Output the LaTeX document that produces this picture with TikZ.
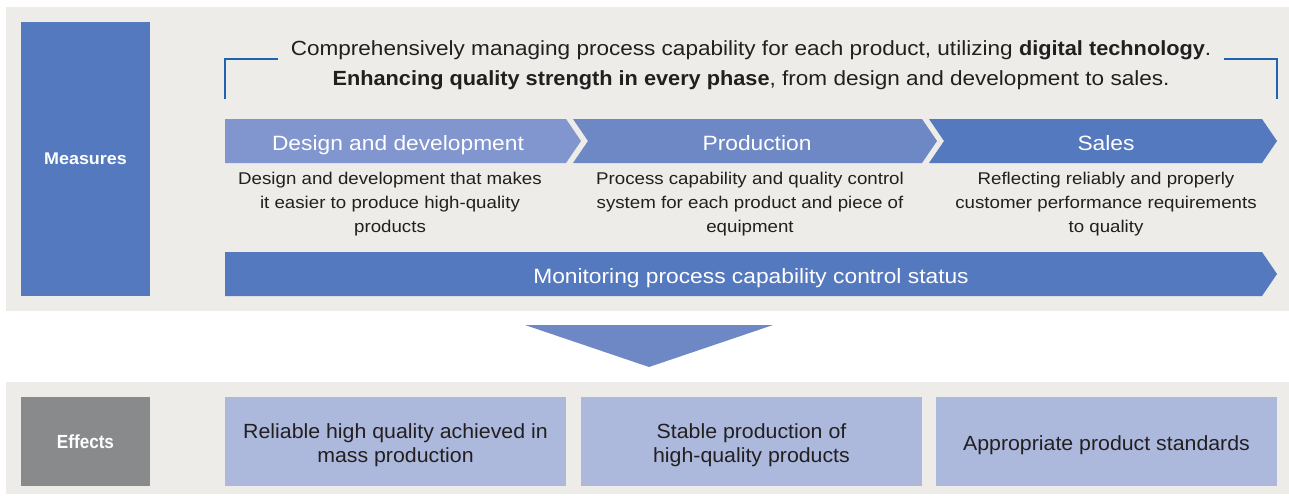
\documentclass[tikz,border=0pt]{standalone}
\usepackage{fontspec}
\setmainfont{Liberation Sans}
\newfontfamily\widefont[FakeStretch=1.1, BoldFeatures={FakeStretch=1.06}]{Liberation Sans}
\newfontfamily\effont[FakeStretch=1.04]{Liberation Sans}
\newfontfamily\condfont[FakeStretch=0.9]{Liberation Sans}
\newcommand\estrut{\rule{0pt}{23pt}}
\definecolor{panel}{HTML}{EDECE8}
\definecolor{mblue}{HTML}{5479BE}
\definecolor{cone}{HTML}{8196CF}
\definecolor{ctwo}{HTML}{6E88C5}
\definecolor{egray}{HTML}{898A8C}
\definecolor{ebox}{HTML}{ACB9DD}
\definecolor{txt}{HTML}{231F20}
\definecolor{brk}{HTML}{1E64AF}
\tikzset{
  head/.style={font=\widefont\fontsize{20.5}{30}\selectfont, text=txt, anchor=base},
  chevlabel/.style={font=\widefont\fontsize{20.7}{24}\selectfont, text=white, anchor=base},
  desc/.style={font=\widefont\fontsize{17}{24}\selectfont, text=txt, align=center},
  sidelabel/.style={font=\widefont\fontsize{16.9}{19}\selectfont\bfseries, text=white},
  effbox/.style={fill=ebox, draw=none, minimum width=341pt, minimum height=89pt, inner sep=0pt,
     font=\effont\fontsize{20.5}{24}\selectfont, text=txt, align=center},
  bracket/.style={draw=brk, line width=1.8pt}
}
\begin{document}
\begin{tikzpicture}[x=1pt,y=-1pt]
\useasboundingbox (0,0) rectangle (1289,495);
\fill[white] (0,0) rectangle (1289,495);
% panels
\fill[panel] (6,7) rectangle (1289,311);
\fill[panel] (6,382) rectangle (1289,494);
% measures box
\node[fill=mblue, minimum width=129pt, minimum height=274pt, inner sep=0pt, sidelabel] (measures) at (85.5,159) {Measures};
% brackets
\coordinate (bl1) at (225,99);
\coordinate (bl2) at (225,59);
\coordinate (bl3) at (278,59);
\coordinate (br1) at (1224,59);
\coordinate (br2) at (1277,59);
\coordinate (br3) at (1277,99);
\draw[bracket] (bl1) -- (bl2) -- (bl3);
\draw[bracket] (br1) -- (br2) -- (br3);
% header text
\node[head] (h1) at (751,56) {Comprehensively managing process capability for each product, utilizing \textbf{digital technology}.};
\node[head] (h2) at (751,85) {\textbf{Enhancing quality strength in every phase}, from design and development to sales.};
% chevrons
\fill[cone] (225,119) -- (566,119) -- (581,141) -- (566,163) -- (225,163) -- cycle;
\fill[ctwo] (573,119) -- (922,119) -- (937,141) -- (922,163) -- (573,163) -- (588,141) -- cycle;
\fill[mblue] (929,119) -- (1262,119) -- (1277,141) -- (1262,163) -- (929,163) -- (944,141) -- cycle;
\node[chevlabel] (c1) at (398,150.5) {Design and development};
\node[chevlabel] (c2) at (757,150.5) {Production};
\node[chevlabel] (c3) at (1106,150.5) {Sales};
% descriptions
\node[desc] (d1) at (390,204) {Design and development that makes\\it easier to produce high-quality\\products};
\node[desc] (d2) at (750,204) {Process capability and quality control\\system for each product and piece of\\equipment};
\node[desc] (d3) at (1106,204) {Reflecting reliably and properly\\customer performance requirements\\to quality};
% monitoring bar
\fill[mblue] (225,252) -- (1262,252) -- (1277,274) -- (1262,296) -- (225,296) -- cycle;
\node[chevlabel] (mon) at (751,283) {Monitoring process capability control status};
% triangle
\fill[ctwo] (525,325) -- (773,325) -- (649,367) -- cycle;
% effects
\node[fill=egray, minimum width=129pt, minimum height=89pt, inner sep=0pt, text=white, font=\condfont\fontsize{19}{22}\selectfont\bfseries] (effects) at (85.5,441.5) {Effects};
\node[effbox] (e1) at (395.5,441.5) {\estrut Reliable high quality achieved in\\mass production};
\node[effbox] (e2) at (751.5,441.5) {\estrut Stable production of\\high-quality products};
\node[effbox] (e3) at (1106.5,441.5) {\estrut Appropriate product standards};
\end{tikzpicture}
\end{document}
